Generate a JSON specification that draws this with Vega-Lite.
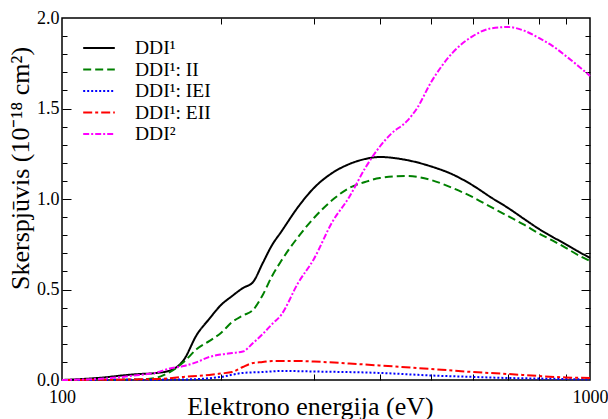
{
  "$schema": "https://vega.github.io/schema/vega-lite/v6.json",
  "width": 528,
  "height": 362,
  "autosize": "none",
  "padding": {"left": 62, "top": 18, "right": 18, "bottom": 39},
  "background": "white",
  "config": {
    "font": "Liberation Serif",
    "view": {"stroke": "black", "strokeWidth": 1.5},
    "style": {"guide-title": {"font": "Liberation Serif", "fontWeight": "normal"}, "guide-label": {"font": "Liberation Serif"}},
    "axis": {"grid": false, "domain": false, "labelFont": "Liberation Serif", "titleFont": "Liberation Serif", "labelColor": "black", "titleColor": "black", "tickColor": "black", "titleFontWeight": "normal"},
    "legend": {"labelFont": "Liberation Serif"}
  },
  "datasets": {
    "curves": [
      {"s": "DDI¹", "e": 100, "v": 0}, {"s": "DDI¹", "e": 110, "v": 0.006}, {"s": "DDI¹", "e": 120, "v": 0.014}, {"s": "DDI¹", "e": 130, "v": 0.025}, {"s": "DDI¹", "e": 140, "v": 0.033}, {"s": "DDI¹", "e": 150, "v": 0.038}, {"s": "DDI¹", "e": 160, "v": 0.052}, {"s": "DDI¹", "e": 170, "v": 0.11}, {"s": "DDI¹", "e": 180, "v": 0.25}, {"s": "DDI¹", "e": 190, "v": 0.337}, {"s": "DDI¹", "e": 200, "v": 0.414}, {"s": "DDI¹", "e": 210, "v": 0.464}, {"s": "DDI¹", "e": 220, "v": 0.508}, {"s": "DDI¹", "e": 230, "v": 0.541}, {"s": "DDI¹", "e": 240, "v": 0.646}, {"s": "DDI¹", "e": 250, "v": 0.746}, {"s": "DDI¹", "e": 260, "v": 0.818}, {"s": "DDI¹", "e": 280, "v": 0.956}, {"s": "DDI¹", "e": 300, "v": 1.061}, {"s": "DDI¹", "e": 325, "v": 1.144}, {"s": "DDI¹", "e": 350, "v": 1.193}, {"s": "DDI¹", "e": 375, "v": 1.221}, {"s": "DDI¹", "e": 400, "v": 1.232}, {"s": "DDI¹", "e": 450, "v": 1.215}, {"s": "DDI¹", "e": 500, "v": 1.18}, {"s": "DDI¹", "e": 550, "v": 1.135}, {"s": "DDI¹", "e": 600, "v": 1.075}, {"s": "DDI¹", "e": 650, "v": 1.008}, {"s": "DDI¹", "e": 700, "v": 0.95}, {"s": "DDI¹", "e": 750, "v": 0.89}, {"s": "DDI¹", "e": 800, "v": 0.835}, {"s": "DDI¹", "e": 850, "v": 0.79}, {"s": "DDI¹", "e": 900, "v": 0.75}, {"s": "DDI¹", "e": 950, "v": 0.71}, {"s": "DDI¹", "e": 1000, "v": 0.675},
      {"s": "DDI¹: II", "e": 100, "v": 0}, {"s": "DDI¹: II", "e": 140, "v": 0.003}, {"s": "DDI¹: II", "e": 150, "v": 0.011}, {"s": "DDI¹: II", "e": 160, "v": 0.044}, {"s": "DDI¹: II", "e": 170, "v": 0.099}, {"s": "DDI¹: II", "e": 180, "v": 0.171}, {"s": "DDI¹: II", "e": 190, "v": 0.215}, {"s": "DDI¹: II", "e": 200, "v": 0.26}, {"s": "DDI¹: II", "e": 210, "v": 0.32}, {"s": "DDI¹: II", "e": 220, "v": 0.356}, {"s": "DDI¹: II", "e": 230, "v": 0.387}, {"s": "DDI¹: II", "e": 240, "v": 0.47}, {"s": "DDI¹: II", "e": 250, "v": 0.575}, {"s": "DDI¹: II", "e": 260, "v": 0.657}, {"s": "DDI¹: II", "e": 280, "v": 0.79}, {"s": "DDI¹: II", "e": 300, "v": 0.895}, {"s": "DDI¹: II", "e": 325, "v": 0.994}, {"s": "DDI¹: II", "e": 350, "v": 1.061}, {"s": "DDI¹: II", "e": 375, "v": 1.094}, {"s": "DDI¹: II", "e": 400, "v": 1.116}, {"s": "DDI¹: II", "e": 450, "v": 1.127}, {"s": "DDI¹: II", "e": 500, "v": 1.105}, {"s": "DDI¹: II", "e": 550, "v": 1.06}, {"s": "DDI¹: II", "e": 600, "v": 1.01}, {"s": "DDI¹: II", "e": 650, "v": 0.955}, {"s": "DDI¹: II", "e": 700, "v": 0.905}, {"s": "DDI¹: II", "e": 750, "v": 0.858}, {"s": "DDI¹: II", "e": 800, "v": 0.81}, {"s": "DDI¹: II", "e": 850, "v": 0.77}, {"s": "DDI¹: II", "e": 900, "v": 0.73}, {"s": "DDI¹: II", "e": 950, "v": 0.69}, {"s": "DDI¹: II", "e": 1000, "v": 0.657},
      {"s": "DDI¹: IEI", "e": 100, "v": 0}, {"s": "DDI¹: IEI", "e": 170, "v": 0.003}, {"s": "DDI¹: IEI", "e": 200, "v": 0.017}, {"s": "DDI¹: IEI", "e": 220, "v": 0.039}, {"s": "DDI¹: IEI", "e": 240, "v": 0.044}, {"s": "DDI¹: IEI", "e": 260, "v": 0.05}, {"s": "DDI¹: IEI", "e": 300, "v": 0.047}, {"s": "DDI¹: IEI", "e": 400, "v": 0.039}, {"s": "DDI¹: IEI", "e": 500, "v": 0.025}, {"s": "DDI¹: IEI", "e": 600, "v": 0.017}, {"s": "DDI¹: IEI", "e": 700, "v": 0.011}, {"s": "DDI¹: IEI", "e": 800, "v": 0.008}, {"s": "DDI¹: IEI", "e": 1000, "v": 0.003},
      {"s": "DDI¹: EII", "e": 100, "v": 0}, {"s": "DDI¹: EII", "e": 150, "v": 0.005}, {"s": "DDI¹: EII", "e": 170, "v": 0.017}, {"s": "DDI¹: EII", "e": 190, "v": 0.028}, {"s": "DDI¹: EII", "e": 200, "v": 0.036}, {"s": "DDI¹: EII", "e": 210, "v": 0.044}, {"s": "DDI¹: EII", "e": 220, "v": 0.072}, {"s": "DDI¹: EII", "e": 230, "v": 0.094}, {"s": "DDI¹: EII", "e": 240, "v": 0.099}, {"s": "DDI¹: EII", "e": 250, "v": 0.105}, {"s": "DDI¹: EII", "e": 280, "v": 0.105}, {"s": "DDI¹: EII", "e": 300, "v": 0.102}, {"s": "DDI¹: EII", "e": 350, "v": 0.091}, {"s": "DDI¹: EII", "e": 400, "v": 0.08}, {"s": "DDI¹: EII", "e": 500, "v": 0.061}, {"s": "DDI¹: EII", "e": 600, "v": 0.044}, {"s": "DDI¹: EII", "e": 700, "v": 0.033}, {"s": "DDI¹: EII", "e": 800, "v": 0.022}, {"s": "DDI¹: EII", "e": 900, "v": 0.014}, {"s": "DDI¹: EII", "e": 1000, "v": 0.011},
      {"s": "DDI²", "e": 100, "v": 0}, {"s": "DDI²", "e": 110, "v": 0.003}, {"s": "DDI²", "e": 120, "v": 0.008}, {"s": "DDI²", "e": 130, "v": 0.017}, {"s": "DDI²", "e": 140, "v": 0.028}, {"s": "DDI²", "e": 150, "v": 0.039}, {"s": "DDI²", "e": 160, "v": 0.064}, {"s": "DDI²", "e": 170, "v": 0.077}, {"s": "DDI²", "e": 180, "v": 0.099}, {"s": "DDI²", "e": 190, "v": 0.127}, {"s": "DDI²", "e": 200, "v": 0.141}, {"s": "DDI²", "e": 210, "v": 0.149}, {"s": "DDI²", "e": 220, "v": 0.157}, {"s": "DDI²", "e": 230, "v": 0.204}, {"s": "DDI²", "e": 240, "v": 0.254}, {"s": "DDI²", "e": 250, "v": 0.309}, {"s": "DDI²", "e": 260, "v": 0.359}, {"s": "DDI²", "e": 280, "v": 0.536}, {"s": "DDI²", "e": 300, "v": 0.669}, {"s": "DDI²", "e": 325, "v": 0.873}, {"s": "DDI²", "e": 350, "v": 1.011}, {"s": "DDI²", "e": 375, "v": 1.17}, {"s": "DDI²", "e": 400, "v": 1.29}, {"s": "DDI²", "e": 420, "v": 1.36}, {"s": "DDI²", "e": 450, "v": 1.43}, {"s": "DDI²", "e": 470, "v": 1.50}, {"s": "DDI²", "e": 500, "v": 1.645}, {"s": "DDI²", "e": 550, "v": 1.81}, {"s": "DDI²", "e": 600, "v": 1.90}, {"s": "DDI²", "e": 650, "v": 1.943}, {"s": "DDI²", "e": 700, "v": 1.95}, {"s": "DDI²", "e": 750, "v": 1.93}, {"s": "DDI²", "e": 800, "v": 1.89}, {"s": "DDI²", "e": 850, "v": 1.845}, {"s": "DDI²", "e": 900, "v": 1.79}, {"s": "DDI²", "e": 950, "v": 1.735}, {"s": "DDI²", "e": 1000, "v": 1.68}
    ]
  },
  "data": {"name": "curves"},
  "resolve": {"axis": {"x": "independent", "y": "independent"}},
  "layer": [
    {
      "mark": {"type": "line", "strokeWidth": 2, "interpolate": "monotone"},
      "encoding": {
        "x": {"field": "e", "type": "quantitative", "scale": {"type": "log", "domain": [100, 1000], "nice": false},
          "axis": {"orient": "bottom", "values": [100, 1000], "format": "d", "ticks": false, "labelFont": "Liberation Serif", "labelFontSize": 18, "labelPadding": 8, "labelFlush": false, "labelOverlap": false,
            "title": "Elektrono energija (eV)", "titleFont": "Liberation Serif", "titleFontWeight": "normal", "titleFontSize": 26, "titleX": 248, "titleY": 34, "titleBaseline": "alphabetic", "titleAlign": "center"}},
        "y": {"field": "v", "type": "quantitative", "scale": {"domain": [0, 2], "nice": false, "zero": true},
          "axis": {"orient": "left", "values": [0, 0.5, 1, 1.5, 2], "format": ".1f", "ticks": false, "labelFont": "Liberation Serif", "labelFontSize": 18, "labelPadding": 3, "labelFlush": false, "labelOverlap": false,
            "title": "Skerspjūvis (10⁻¹⁸ cm²)", "titleFont": "Liberation Serif", "titleFontWeight": "normal", "titleFontSize": 26, "titleAngle": 270, "titleX": -34, "titleY": 150, "titleBaseline": "alphabetic", "titleAlign": "center"}},
        "color": {"field": "s", "type": "nominal",
          "scale": {"domain": ["DDI¹", "DDI¹: II", "DDI¹: IEI", "DDI¹: EII", "DDI²"], "range": ["#000000", "#008000", "#0000ff", "#ff0000", "#ff00ff"]},
          "legend": {"orient": "none", "legendX": 20, "legendY": 20, "title": null, "symbolType": "stroke", "symbolSize": 1000, "symbolStrokeWidth": 2, "labelFont": "Liberation Serif", "labelFontSize": 19.5, "labelOffset": 19, "clipHeight": 20, "rowPadding": 1.5, "padding": 0, "labelColor": "black"}},
        "strokeDash": {"field": "s", "type": "nominal",
          "scale": {"domain": ["DDI¹", "DDI¹: II", "DDI¹: IEI", "DDI¹: EII", "DDI²"], "range": [[1, 0], [8, 4], [2, 2], [9, 3, 3, 3], [6, 2, 2, 2]]},
          "legend": {"orient": "none", "legendX": 20, "legendY": 20, "title": null, "symbolType": "stroke", "symbolSize": 1000, "symbolStrokeWidth": 2, "labelFont": "Liberation Serif", "labelFontSize": 19.5, "labelOffset": 19, "clipHeight": 20, "rowPadding": 1.5, "padding": 0, "labelColor": "black"}}
      }
    },
    {
      "mark": {"type": "line", "opacity": 0},
      "encoding": {
        "x": {"field": "e", "type": "quantitative", "axis": {"orient": "bottom", "values": [200, 300, 400, 500, 600, 700, 800, 900], "labels": false, "title": null, "tickSize": -6, "tickWidth": 1}},
        "y": {"field": "v", "type": "quantitative", "axis": {"orient": "left", "values": [0.1, 0.2, 0.3, 0.4, 0.5, 0.6, 0.7, 0.8, 0.9, 1.0, 1.1, 1.2, 1.3, 1.4, 1.5, 1.6, 1.7, 1.8, 1.9], "labels": false, "title": null, "tickWidth": 1,
          "tickSize": {"condition": {"test": "abs(datum.value*2 - round(datum.value*2)) < 0.001", "value": -9}, "value": -5}}}
      }
    },
    {
      "mark": {"type": "line", "opacity": 0},
      "encoding": {
        "x": {"field": "e", "type": "quantitative", "axis": {"orient": "top", "values": [200, 300, 400, 500, 600, 700, 800, 900], "labels": false, "title": null, "tickSize": -6, "tickWidth": 1}},
        "y": {"field": "v", "type": "quantitative", "axis": {"orient": "right", "values": [0.1, 0.2, 0.3, 0.4, 0.5, 0.6, 0.7, 0.8, 0.9, 1.0, 1.1, 1.2, 1.3, 1.4, 1.5, 1.6, 1.7, 1.8, 1.9], "labels": false, "title": null, "tickWidth": 1,
          "tickSize": {"condition": {"test": "abs(datum.value*2 - round(datum.value*2)) < 0.001", "value": -9}, "value": -5}}}
      }
    }
  ]
}
